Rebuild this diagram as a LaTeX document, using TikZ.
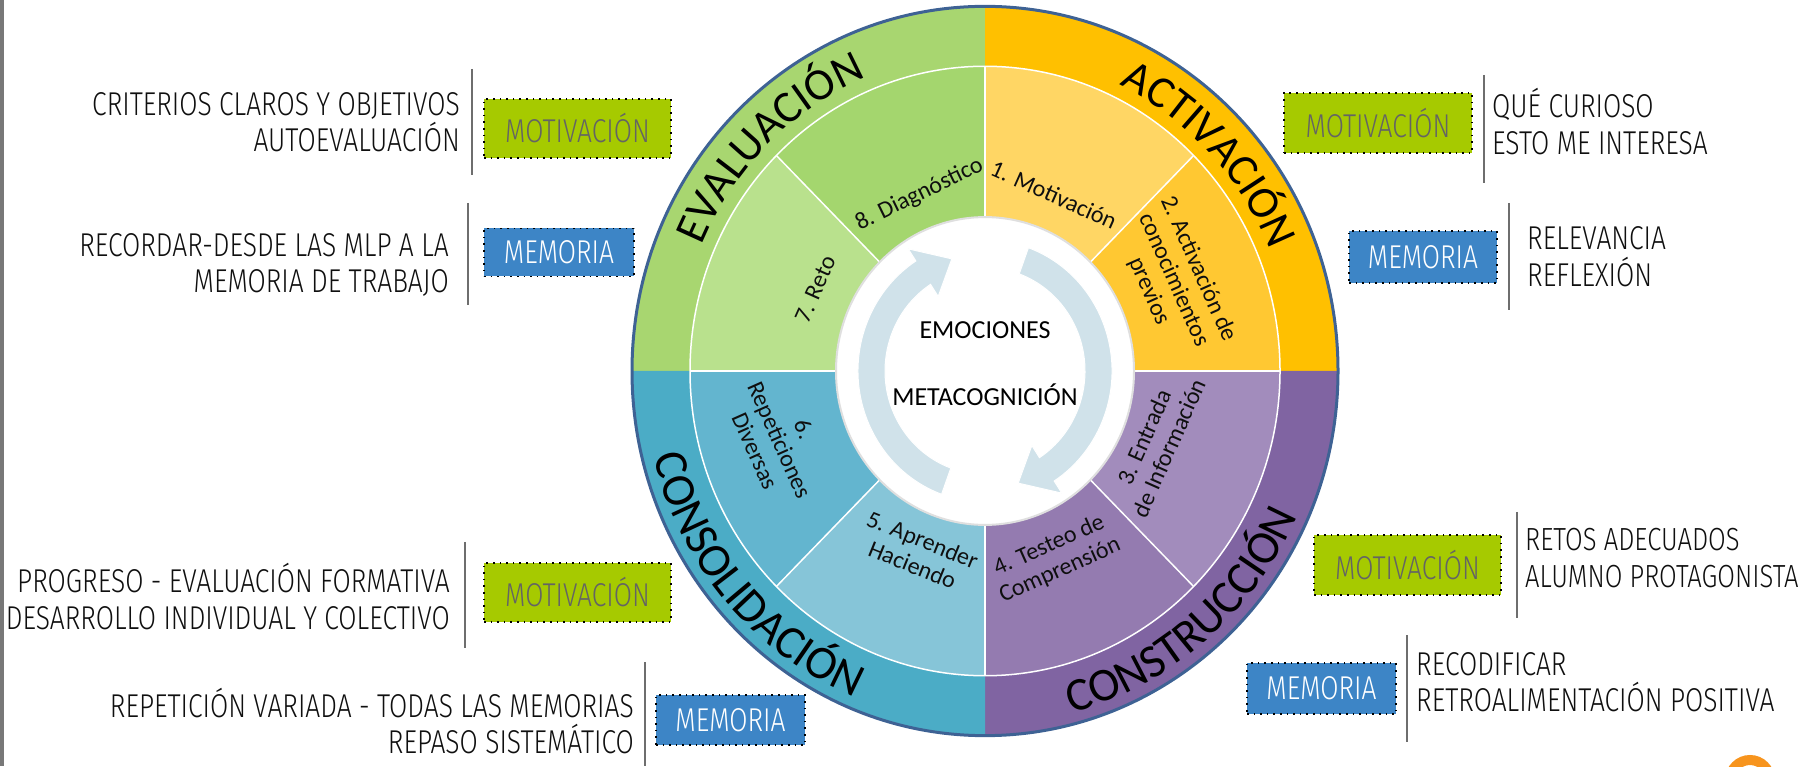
\documentclass[tikz,border=0pt]{standalone}
\usepackage{fontspec}
\usepackage{tikz}
\usetikzlibrary{decorations.text}
\newfontfamily\wheelfont{Carlito}
\newfontfamily\dinfont[FakeStretch=0.8]{Fira Sans Light}
\definecolor{EvalGreen}{RGB}{168, 214, 112}
\definecolor{ActOrange}{RGB}{255, 192, 0}
\definecolor{ConsPurple}{RGB}{128, 100, 162}
\definecolor{ConsolTeal}{RGB}{75, 172, 198}
\definecolor{WedgeOne}{RGB}{255, 214, 100}
\definecolor{WedgeTwo}{RGB}{255, 200, 50}
\definecolor{WedgeThree}{RGB}{162, 140, 188}
\definecolor{WedgeFour}{RGB}{148, 123, 176}
\definecolor{WedgeFive}{RGB}{134, 197, 216}
\definecolor{WedgeSix}{RGB}{99, 181, 207}
\definecolor{WedgeSeven}{RGB}{185, 225, 141}
\definecolor{WedgeEight}{RGB}{164, 214, 110}
\definecolor{ArrowBlue}{RGB}{208, 226, 234}
\definecolor{RimBlue}{RGB}{62, 98, 148}
\definecolor{MotGreen}{RGB}{166, 202, 0}
\definecolor{MemBlue}{RGB}{61, 133, 198}
\definecolor{MotGrey}{RGB}{100, 100, 100}
\definecolor{InkBlack}{RGB}{15, 15, 15}
\definecolor{RuleGrey}{RGB}{110, 110, 110}
\definecolor{BorderGrey}{RGB}{120, 120, 120}
\definecolor{LogoOrange}{RGB}{247, 148, 29}

\begin{document}
\begin{tikzpicture}[x=1pt, y=1pt,
    motbox/.style={draw=black, line width=1.6, dash pattern=on 1.6pt off 5pt, fill=MotGreen,
      text=MotGrey, font=\dinfont\fontsize{33}{33}\selectfont, minimum width=187, minimum height=59, inner sep=0},
    membox/.style={draw=black, line width=1.6, dash pattern=on 1.6pt off 5pt, fill=MemBlue,
      text=white, font=\dinfont\fontsize{33}{33}\selectfont, minimum width=149, minimum height=50, inner sep=0},
    sidetext/.style={font=\dinfont\fontsize{33}{36.5}\selectfont, text=InkBlack, inner sep=0},
    seprule/.style={RuleGrey, line width=2},
    wedgelabel/.style={font=\wheelfont\fontsize{24}{27}\selectfont, text=InkBlack, align=center, inner sep=0},
    centertext/.style={font=\wheelfont\fontsize{26}{26}\selectfont, text=black, inner sep=0}]
    \useasboundingbox (0,0) rectangle (1806,766);
    \fill[BorderGrey] (0,0) rectangle (3.5,766);

    % Rueda
    \begin{scope}[shift={(985,395)}, yscale=1.033]
        % Anillo exterior
        \fill[EvalGreen] (0,0) -- (180:353) arc[start angle=180, end angle=90, radius=353] -- cycle;
        \fill[ActOrange] (0,0) -- (90:353) arc[start angle=90, end angle=0, radius=353] -- cycle;
        \fill[ConsPurple] (0,0) -- (0:353) arc[start angle=0, end angle=-90, radius=353] -- cycle;
        \fill[ConsolTeal] (0,0) -- (270:353) arc[start angle=270, end angle=180, radius=353] -- cycle;
        \draw[RimBlue, line width=3] (0,0) circle[radius=353];
        % Sectores interiores
        \foreach \a/\c in {45/WedgeOne, 0/WedgeTwo, -45/WedgeThree, -90/WedgeFour,
                           -135/WedgeFive, 180/WedgeSix, 135/WedgeSeven, 90/WedgeEight}
            \fill[\c] (0,0) -- (\a:295) arc[start angle=\a, delta angle=45, radius=295] -- cycle;
        \foreach \a in {0,45,...,315}
            \draw[white, line width=1.5] (0,0) -- (\a:295);
        \draw[white, line width=1.5] (0,0) circle[radius=295];
        % Centro
        \fill[white] (0,0) circle[radius=149];
        \draw[gray!25, line width=2] (0,0) circle[radius=149];
        % Flechas
        \fill[ArrowBlue, draw=white, line width=1] (250:127) arc[start angle=250, end angle=123, radius=127]
            -- (123:141) -- (107:113.5) -- (123:86) -- (123:100) arc[start angle=123, end angle=250, radius=100] -- cycle;
        \fill[ArrowBlue, draw=white, line width=1] (70:127) arc[start angle=70, end angle=-57, radius=127]
            -- (-57:141) -- (-73:113.5) -- (-57:86) -- (-57:100) arc[start angle=-57, end angle=70, radius=100] -- cycle;
        \node[centertext] (emociones) at (0,40) {EMOCIONES};
        \node[centertext] (metacog) at (0,-23) {METACOGNICIÓN};
        % Etiquetas de los sectores
        \node[wedgelabel, rotate=-24] (lblMotiv) at (68:184) {1. Motivación};
        \node[wedgelabel, rotate=-66] (lblActiv) at (25:208) {2. Activación de\\conocimientos\\previos};
        \node[wedgelabel, rotate=66] (lblEntrada) at (-22:185) {3. Entrada\\de Información};
        \node[wedgelabel, rotate=24] (lblTesteo) at (-69:194) {4. Testeo de\\Comprensión};
        \node[wedgelabel, rotate=-22] (lblAprender) at (249:188) {5. Aprender\\Haciendo};
        \node[wedgelabel, rotate=-66] (lblRepet) at (198:216) {6.\\Repeticiones\\Diversas};
        \node[wedgelabel, rotate=66] (lblReto) at (155:187) {7. Reto};
        \node[wedgelabel, rotate=26] (lblDiag) at (111:183) {8. Diagnóstico};
        % Textos curvos
        \path[decorate, decoration={text along path, text align=center,
            text={|\wheelfont\fontsize{45}{45}\selectfont|EVALUACIÓN}}]
            (174.5:308) arc[start angle=174.5, end angle=94.5, radius=308];
        \path[decorate, decoration={text along path, text align=center,
            text={|\wheelfont\fontsize{45}{45}\selectfont|ACTIVACIÓN}}]
            (83.5:308) arc[start angle=83.5, end angle=3.5, radius=308];
        \path[decorate, decoration={text along path, text align=center,
            text={|\wheelfont\fontsize{47}{47}\selectfont|CONSTRUCCIÓN}}]
            (-90:342) arc[start angle=-90, end angle=-10, radius=342];
        \path[decorate, decoration={text along path, text align=center,
            text={|\wheelfont\fontsize{47}{47}\selectfont|CONSOLIDACIÓN}}]
            (181:342) arc[start angle=181, end angle=261, radius=342];
    \end{scope}

    % Bloque izquierdo 1
    \node[sidetext, align=right, anchor=east] (txtCriterios) at (460,644) {CRITERIOS CLAROS Y OBJETIVOS\\AUTOEVALUACIÓN};
    \draw[seprule] (472,697) -- (472,591);
    \node[motbox] (motIzqA) at (577.5,637.5) {MOTIVACIÓN};

    % Bloque izquierdo 2
    \node[sidetext, align=right, anchor=east] (txtRecordar) at (449,501) {RECORDAR-DESDE LAS MLP A LA\\MEMORIA DE TRABAJO};
    \draw[seprule] (468,563) -- (468,461);
    \node[membox, minimum width=150, minimum height=48] (memIzqA) at (559,513.5) {MEMORIA};

    % Bloque izquierdo 3
    \node[sidetext, align=right, anchor=east] (txtProgreso) at (450,169.5) {PROGRESO - EVALUACIÓN FORMATIVA\\DESARROLLO INDIVIDUAL Y COLECTIVO};
    \draw[seprule] (465,224) -- (465,118);
    \node[motbox] (motIzqB) at (577.5,173.5) {MOTIVACIÓN};

    % Bloque izquierdo 4
    \node[sidetext, align=right, anchor=east] (txtRepeticion) at (634,45) {REPETICIÓN VARIADA - TODAS LAS MEMORIAS\\REPASO SISTEMÁTICO};
    \draw[seprule] (645,104) -- (645,0);
    \node[membox] (memIzqB) at (730.5,46) {MEMORIA};

    % Bloque derecho 1
    \node[motbox, minimum width=188, minimum height=60] (motDerA) at (1378,643) {MOTIVACIÓN};
    \draw[seprule] (1484,691) -- (1484,583);
    \node[sidetext, align=left, anchor=west] (txtCurioso) at (1492,644.5) {QUÉ CURIOSO\\ESTO ME INTERESA};

    % Bloque derecho 2
    \node[membox, minimum width=148, minimum height=52] (memDerA) at (1423,509) {MEMORIA};
    \draw[seprule] (1509,563) -- (1509,456);
    \node[sidetext, align=left, anchor=west] (txtRelevancia) at (1527,509.5) {RELEVANCIA\\REFLEXIÓN};

    % Bloque derecho 3
    \node[motbox, minimum height=60] (motDerB) at (1407.5,201) {MOTIVACIÓN};
    \draw[seprule] (1517,254) -- (1517,148);
    \node[sidetext, align=left, anchor=west, font=\dinfont\fontsize{32}{36.5}\selectfont] (txtRetos) at (1525,208) {RETOS ADECUADOS\\ALUMNO PROTAGONISTA};

    % Bloque derecho 4
    \node[membox, minimum height=51] (memDerB) at (1321.5,77.5) {MEMORIA};
    \draw[seprule] (1407,131) -- (1407,24);
    \node[sidetext, align=left, anchor=west] (txtRecodificar) at (1416,84) {RECODIFICAR\\RETROALIMENTACIÓN POSITIVA};

    % Logo (recortado)
    \draw[LogoOrange, line width=10] (1750,-14) circle[radius=20];
\end{tikzpicture}
\end{document}
